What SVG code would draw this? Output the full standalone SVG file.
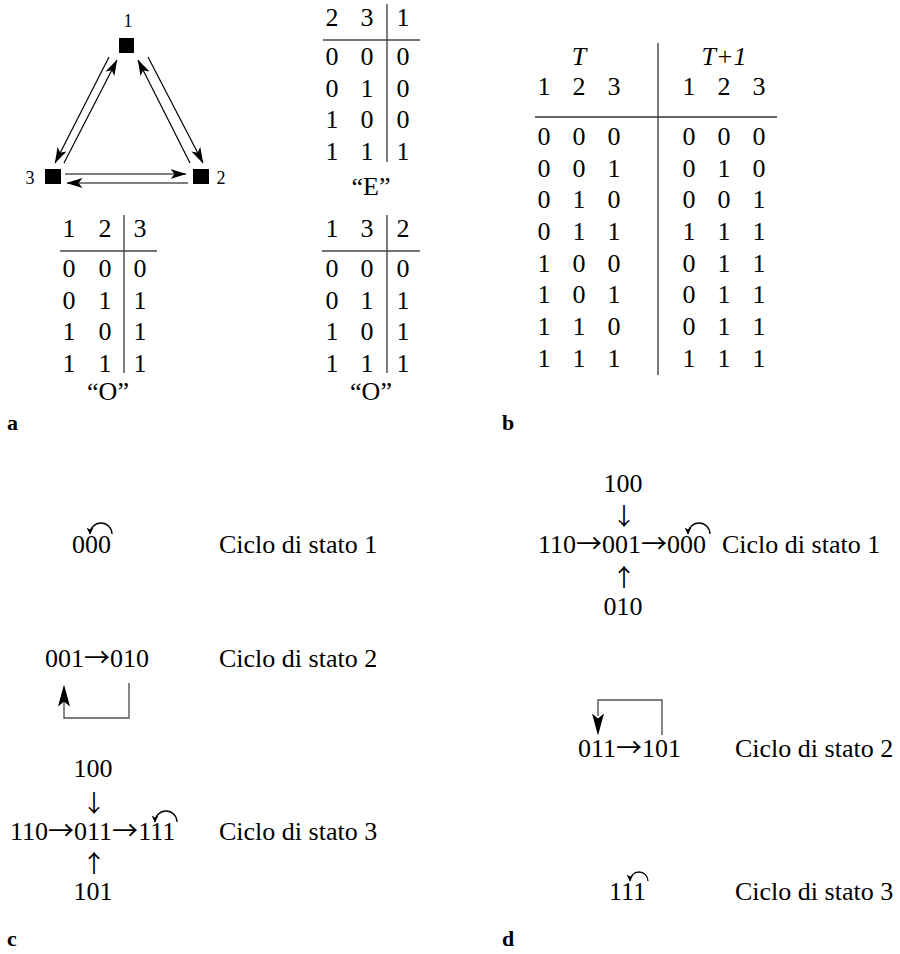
<svg xmlns="http://www.w3.org/2000/svg" width="900" height="954" viewBox="0 0 900 954">
<style>
text{font-family:"Liberation Serif","Times New Roman",serif;fill:#000}
.t{font-size:26px;text-anchor:middle}
.s{font-size:26px}
.i{font-style:italic}
.ar{font-family:"Noto Sans CJK JP","DejaVu Sans",sans-serif;font-weight:400;fill:#000}
.va{font-size:24px}
.lab{font-size:18px;text-anchor:middle}
.p{font-size:22px;font-weight:bold}
.tl{stroke:#444;stroke-width:1.4;fill:none}
.ed{stroke:#000;stroke-width:1.2;fill:none}
.br{stroke:#555;stroke-width:1.4;fill:none}
.lp{stroke:#000;stroke-width:1.3;fill:none}
</style>
<defs>
<marker id="ah" viewBox="0 0 16 10" refX="15.5" refY="5" markerWidth="16" markerHeight="10" markerUnits="userSpaceOnUse" orient="auto"><path d="M0,0 L16,5 L0,10 L4,5 Z" fill="#000"/></marker>
<marker id="sm" viewBox="0 0 7 7" refX="6.5" refY="3.5" markerWidth="7" markerHeight="7" markerUnits="userSpaceOnUse" orient="auto"><path d="M0,0 L7,3.5 L0,7 L2,3.5 Z" fill="#000"/></marker>
<marker id="big" viewBox="0 0 22 12" refX="21.5" refY="6" markerWidth="22" markerHeight="12" markerUnits="userSpaceOnUse" orient="auto"><path d="M0,0 L22,6 L0,12 L5,6 Z" fill="#000"/></marker>
</defs>

<!-- panel a: network -->
<g id="node1"><rect x="119" y="38" width="15" height="15" fill="#000"/><text class="lab" x="128" y="27">1</text></g>
<g id="node2"><rect x="193" y="169" width="16" height="15" fill="#000"/><text class="lab" x="221" y="184">2</text></g>
<g id="node3"><rect x="45" y="169" width="16" height="15" fill="#000"/><text class="lab" x="30" y="184">3</text></g>
<g id="connectors">
<line class="ed" x1="109" y1="57" x2="55" y2="163" marker-end="url(#ah)"/>
<line class="ed" x1="64" y1="163" x2="117" y2="60" marker-end="url(#ah)"/>
<line class="ed" x1="148" y1="57" x2="203" y2="163" marker-end="url(#ah)"/>
<line class="ed" x1="190" y1="163" x2="138" y2="60" marker-end="url(#ah)"/>
<line class="ed" x1="65" y1="174" x2="186" y2="174" marker-end="url(#ah)"/>
<line class="ed" x1="188" y1="183" x2="67" y2="183" marker-end="url(#ah)"/>
</g>

<!-- table E -->
<g id="tableE">
<line class="tl" x1="387" y1="4" x2="387" y2="162"/>
<line class="tl" x1="323" y1="40" x2="420" y2="40"/>
<text class="t" x="332" y="26">2</text><text class="t" x="367" y="26">3</text><text class="t" x="403" y="26">1</text>
<text class="t" x="332" y="65">0</text><text class="t" x="367" y="65">0</text><text class="t" x="403" y="65">0</text>
<text class="t" x="332" y="97">0</text><text class="t" x="367" y="97">1</text><text class="t" x="403" y="97">0</text>
<text class="t" x="332" y="128">1</text><text class="t" x="367" y="128">0</text><text class="t" x="403" y="128">0</text>
<text class="t" x="332" y="160">1</text><text class="t" x="367" y="160">1</text><text class="t" x="403" y="160">1</text>
<text class="t" x="371" y="195">“E”</text>
</g>

<!-- table O left -->
<g id="tableO1">
<line class="tl" x1="124" y1="215" x2="124" y2="373"/>
<line class="tl" x1="60" y1="251" x2="157" y2="251"/>
<text class="t" x="69" y="237">1</text><text class="t" x="105" y="237">2</text><text class="t" x="140" y="237">3</text>
<text class="t" x="69" y="277">0</text><text class="t" x="105" y="277">0</text><text class="t" x="140" y="277">0</text>
<text class="t" x="69" y="309">0</text><text class="t" x="105" y="309">1</text><text class="t" x="140" y="309">1</text>
<text class="t" x="69" y="340">1</text><text class="t" x="105" y="340">0</text><text class="t" x="140" y="340">1</text>
<text class="t" x="69" y="372">1</text><text class="t" x="105" y="372">1</text><text class="t" x="140" y="372">1</text>
<text class="t" x="108" y="400">“O”</text>
</g>

<!-- table O right -->
<g id="tableO2">
<line class="tl" x1="387" y1="215" x2="387" y2="373"/>
<line class="tl" x1="322" y1="251" x2="420" y2="251"/>
<text class="t" x="332" y="237">1</text><text class="t" x="367" y="237">3</text><text class="t" x="403" y="237">2</text>
<text class="t" x="332" y="277">0</text><text class="t" x="367" y="277">0</text><text class="t" x="403" y="277">0</text>
<text class="t" x="332" y="309">0</text><text class="t" x="367" y="309">1</text><text class="t" x="403" y="309">1</text>
<text class="t" x="332" y="340">1</text><text class="t" x="367" y="340">0</text><text class="t" x="403" y="340">1</text>
<text class="t" x="332" y="372">1</text><text class="t" x="367" y="372">1</text><text class="t" x="403" y="372">1</text>
<text class="t" x="371" y="400">“O”</text>
</g>

<text class="p" x="7" y="430">a</text>
<text class="p" x="502" y="430">b</text>

<!-- panel b: transition table -->
<g id="tableB">
<line x1="658" y1="43" x2="658" y2="375" stroke="#333" stroke-width="1.3"/>
<line x1="535" y1="117" x2="777" y2="117" stroke="#333" stroke-width="1.3"/>
<text class="t i" x="579" y="65">T</text>
<text class="t i" x="724" y="65">T+1</text>
<text class="t" x="544" y="95">1</text><text class="t" x="579" y="95">2</text><text class="t" x="614" y="95">3</text>
<text class="t" x="689" y="95">1</text><text class="t" x="724" y="95">2</text><text class="t" x="759" y="95">3</text>
<text class="t" x="544" y="145">0</text><text class="t" x="579" y="145">0</text><text class="t" x="614" y="145">0</text><text class="t" x="689" y="145">0</text><text class="t" x="724" y="145">0</text><text class="t" x="759" y="145">0</text>
<text class="t" x="544" y="177">0</text><text class="t" x="579" y="177">0</text><text class="t" x="614" y="177">1</text><text class="t" x="689" y="177">0</text><text class="t" x="724" y="177">1</text><text class="t" x="759" y="177">0</text>
<text class="t" x="544" y="208">0</text><text class="t" x="579" y="208">1</text><text class="t" x="614" y="208">0</text><text class="t" x="689" y="208">0</text><text class="t" x="724" y="208">0</text><text class="t" x="759" y="208">1</text>
<text class="t" x="544" y="240">0</text><text class="t" x="579" y="240">1</text><text class="t" x="614" y="240">1</text><text class="t" x="689" y="240">1</text><text class="t" x="724" y="240">1</text><text class="t" x="759" y="240">1</text>
<text class="t" x="544" y="272">1</text><text class="t" x="579" y="272">0</text><text class="t" x="614" y="272">0</text><text class="t" x="689" y="272">0</text><text class="t" x="724" y="272">1</text><text class="t" x="759" y="272">1</text>
<text class="t" x="544" y="303">1</text><text class="t" x="579" y="303">0</text><text class="t" x="614" y="303">1</text><text class="t" x="689" y="303">0</text><text class="t" x="724" y="303">1</text><text class="t" x="759" y="303">1</text>
<text class="t" x="544" y="335">1</text><text class="t" x="579" y="335">1</text><text class="t" x="614" y="335">0</text><text class="t" x="689" y="335">0</text><text class="t" x="724" y="335">1</text><text class="t" x="759" y="335">1</text>
<text class="t" x="544" y="367">1</text><text class="t" x="579" y="367">1</text><text class="t" x="614" y="367">1</text><text class="t" x="689" y="367">1</text><text class="t" x="724" y="367">1</text><text class="t" x="759" y="367">1</text>
</g>

<!-- panel c -->
<g id="c1">
<text class="s" x="72" y="553">000</text>
<path class="lp" d="M112,534 A11,11 0 0 0 90,534" marker-end="url(#sm)"/>
<text class="s" x="219" y="553">Ciclo di stato 1</text>
</g>
<g id="c2">
<text class="s" x="45" y="667">001<tspan class="ar">→</tspan>010</text>
<polyline class="br" points="129,683 129,718 64,718 64,700"/>
<line x1="64" y1="705" x2="64" y2="685" stroke="none" marker-end="url(#big)"/>
<text class="s" x="219" y="667">Ciclo di stato 2</text>
</g>
<g id="c3">
<text class="t" x="93" y="777">100</text>
<text class="t ar va" x="94" y="812">↓</text>
<text class="s" x="10" y="840">110<tspan class="ar">→</tspan>011<tspan class="ar">→</tspan>111</text>
<path class="lp" d="M177,822 A11,11 0 0 0 155,822" marker-end="url(#sm)"/>
<text class="t ar va" x="94" y="872">↑</text>
<text class="t" x="93" y="900">101</text>
<text class="s" x="219" y="840">Ciclo di stato 3</text>
</g>

<!-- panel d -->
<g id="d1">
<text class="t" x="623" y="492">100</text>
<text class="t ar va" x="624" y="525">↓</text>
<text class="s" x="538" y="553">110<tspan class="ar">→</tspan>001<tspan class="ar">→</tspan>000</text>
<path class="lp" d="M710,534 A11,11 0 0 0 688,534" marker-end="url(#sm)"/>
<text class="t ar va" x="624" y="586">↑</text>
<text class="t" x="623" y="615">010</text>
<text class="s" x="722" y="553">Ciclo di stato 1</text>
</g>
<g id="d2">
<text class="s" x="578" y="757">011<tspan class="ar">→</tspan>101</text>
<polyline class="br" points="662,735 662,700 598,700 598,716"/>
<line x1="598" y1="712" x2="598" y2="735" stroke="none" marker-end="url(#big)"/>
<text class="s" x="735" y="757">Ciclo di stato 2</text>
</g>
<g id="d3">
<text class="s" x="609" y="900">111</text>
<path class="lp" d="M648,881 A9,9 0 0 0 630,881" marker-end="url(#sm)"/>
<text class="s" x="735" y="900">Ciclo di stato 3</text>
</g>

<text class="p" x="7" y="946">c</text>
<text class="p" x="502" y="946">d</text>
</svg>
